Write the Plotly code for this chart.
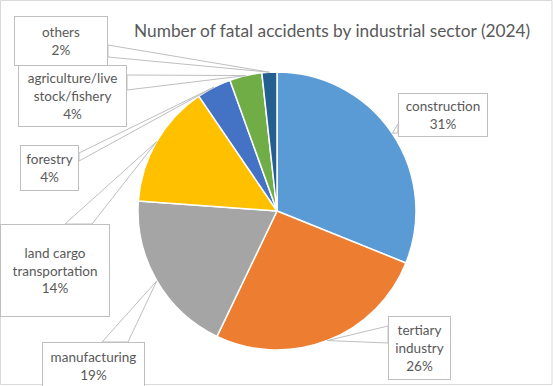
import math
import plotly.graph_objects as go

# ---- data ----
categories = ["construction", "tertiary industry", "manufacturing",
              "land cargo transportation", "forestry",
              "agriculture/livestock/fishery", "others"]
values = [232, 194, 142, 107, 30, 28, 13]
label_text = ["construction", "tertiary<br>industry", "manufacturing",
              "land cargo<br>transportation", "forestry",
              "agriculture/live<br>stock/fishery", "others"]
colors = ["#5B9BD5", "#ED7D31", "#A5A5A5", "#FFC000", "#4472C4", "#70AD47", "#255E91"]
title_text = "Number of fatal accidents by industrial sector (2024)"

W, H = 553, 386
CX, CY, R = 277, 211, 139

# label boxes (px: x0, y0, x1, y1) and callout base points (px)
boxes = [(398, 93, 488, 137), (388, 316, 451, 380), (42, 342, 145, 390),
         (0, 224, 110, 317), (20, 145, 79, 191), (18, 65, 127, 127),
         (14, 16, 108, 66)]
bases = [((398, 124), (398, 133)), ((388, 326), (388, 343)),
         ((102, 342), (128, 342)), ((65, 224), (92, 224)),
         ((79, 153), (79, 161)), ((127, 75), (127, 90)),
         ((108, 45), (108, 57))]

def px(x):
    return x / W

def py(y):
    return 1 - y / H

fig = go.Figure(go.Pie(
    labels=categories, values=values, sort=False, direction="clockwise",
    rotation=0, marker=dict(colors=colors, line=dict(color="white", width=1.5)),
    textinfo="none", hoverinfo="label+percent", showlegend=False,
    domain=dict(x=[px(CX - R), px(CX + R)], y=[py(CY + R), py(CY - R)]),
))

total = sum(values)
shapes = []
annotations = []
cum = 0
for i, v in enumerate(values):
    mid = (cum + v / 2) / total * 2 * math.pi
    cum += v
    tx = CX + R * math.sin(mid)
    ty = CY - R * math.cos(mid)
    (ax, ay), (bx, by) = bases[i]
    path = f"M {px(ax)} {py(ay)} L {px(tx)} {py(ty)} L {px(bx)} {py(by)} Z"
    shapes.append(dict(type="path", xref="paper", yref="paper", path=path,
                       fillcolor="white", line=dict(color="#BFBFBF", width=1)))
    x0, y0, x1, y1 = boxes[i]
    pct = round(v / total * 100)
    annotations.append(dict(
        xref="paper", yref="paper", x=px((x0 + x1) / 2), y=py((y0 + y1) / 2),
        xanchor="center", yanchor="middle", showarrow=False,
        text=f"{label_text[i]}<br>{pct}%", align="center", valign="middle",
        width=x1 - x0 - 2, height=y1 - y0 - 2, borderpad=0,
        bgcolor="white", bordercolor="#BFBFBF", borderwidth=1,
        font=dict(family="Lato", size=13.5, color="#595959"),
    ))

shapes.append(dict(type="rect", xref="paper", yref="paper",
                   x0=px(0.5), y0=py(384.5), x1=px(552), y1=py(0.5),
                   line=dict(color="#D9D9D9", width=1)))

annotations.append(dict(
    xref="paper", yref="paper", x=px(332), y=py(30), xanchor="center",
    yanchor="middle", showarrow=False, text=title_text,
    font=dict(family="Lato", size=17.3, color="#595959"),
))

fig.update_layout(
    width=W, height=H, margin=dict(l=0, r=0, t=0, b=0),
    paper_bgcolor="white", plot_bgcolor="white",
    shapes=shapes, annotations=annotations,
)
fig.write_html("out.html", config={"displayModeBar": False},
               post_script="document.body.style.margin='0';document.body.style.overflow='hidden';")
